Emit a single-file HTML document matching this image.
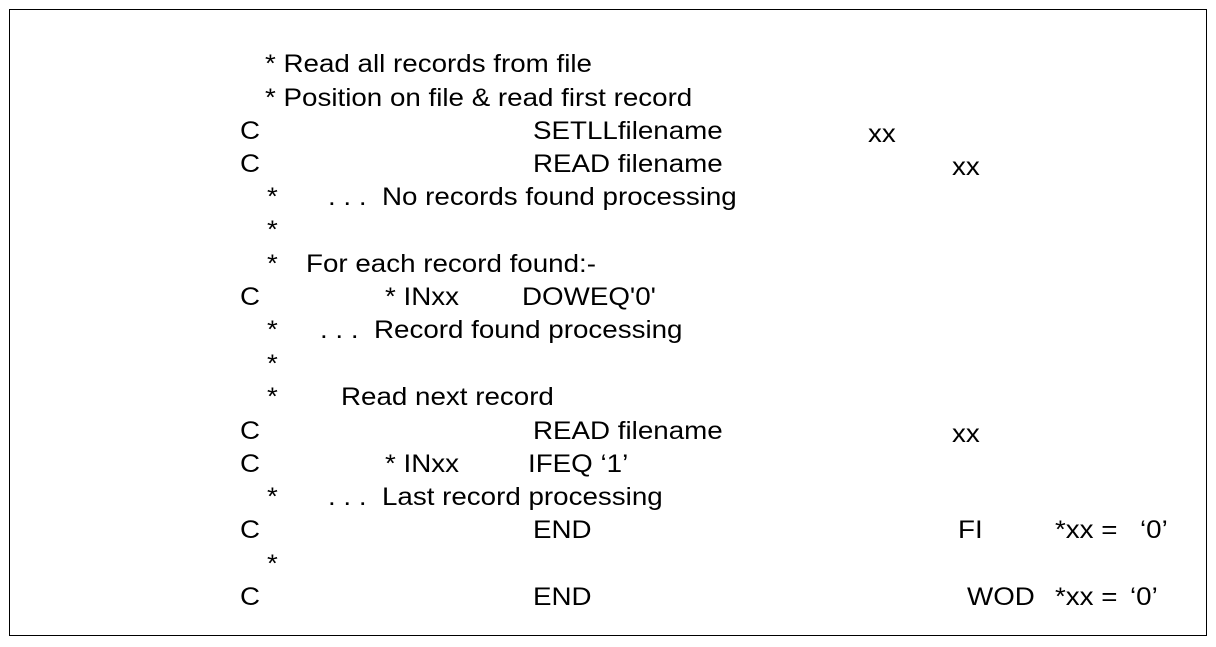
<!DOCTYPE html>
<html><head><meta charset="utf-8"><style>
body{margin:0;width:1216px;height:647px;background:#fff;position:relative;overflow:hidden;font-family:"Liberation Sans",Arial,sans-serif;font-size:25px;color:#000}
.box{position:absolute;left:9px;top:9px;width:1198px;height:627px;border:1px solid #000;box-sizing:border-box}
.t{position:absolute;line-height:28px;white-space:pre;transform:scaleX(1.11);transform-origin:0 0}
</style></head><body>
<div class="box"></div>
<div class="t" style="left:265px;top:50px">* Read all records from file</div>
<div class="t" style="left:265px;top:84px">* Position on file &amp; read first record</div>
<div class="t" style="left:240px;top:117px">C</div><div class="t" style="left:533px;top:117px">SETLLfilename</div><div class="t" style="left:868px;top:120px">xx</div>
<div class="t" style="left:240px;top:150px">C</div><div class="t" style="left:533px;top:150px">READ filename</div><div class="t" style="left:952px;top:153px">xx</div>
<div class="t" style="left:267px;top:183px">*</div><div class="t" style="left:328px;top:183px">. . .  No records found processing</div>
<div class="t" style="left:267px;top:216px">*</div>
<div class="t" style="left:267px;top:250px">*</div><div class="t" style="left:306px;top:250px">For each record found:-</div>
<div class="t" style="left:240px;top:283px">C</div><div class="t" style="left:385px;top:283px">* INxx</div><div class="t" style="left:522px;top:283px">DOWEQ'0'</div>
<div class="t" style="left:267px;top:316px">*</div><div class="t" style="left:320px;top:316px">. . .  Record found processing</div>
<div class="t" style="left:267px;top:350px">*</div>
<div class="t" style="left:267px;top:383px">*</div><div class="t" style="left:341px;top:383px">Read next record</div>
<div class="t" style="left:240px;top:417px">C</div><div class="t" style="left:533px;top:417px">READ filename</div><div class="t" style="left:952px;top:420px">xx</div>
<div class="t" style="left:240px;top:450px">C</div><div class="t" style="left:385px;top:450px">* INxx</div><div class="t" style="left:528px;top:450px">IFEQ ‘1’</div>
<div class="t" style="left:267px;top:483px">*</div><div class="t" style="left:328px;top:483px">. . .  Last record processing</div>
<div class="t" style="left:240px;top:516px">C</div><div class="t" style="left:533px;top:516px">END</div><div class="t" style="left:958px;top:516px">FI</div><div class="t" style="left:1055px;top:516px">*xx =</div><div class="t" style="left:1140px;top:516px">‘0’</div>
<div class="t" style="left:267px;top:550px">*</div>
<div class="t" style="left:240px;top:583px">C</div><div class="t" style="left:533px;top:583px">END</div><div class="t" style="left:967px;top:583px">WOD</div><div class="t" style="left:1055px;top:583px">*xx =</div><div class="t" style="left:1130px;top:583px">‘0’</div>
</body></html>
